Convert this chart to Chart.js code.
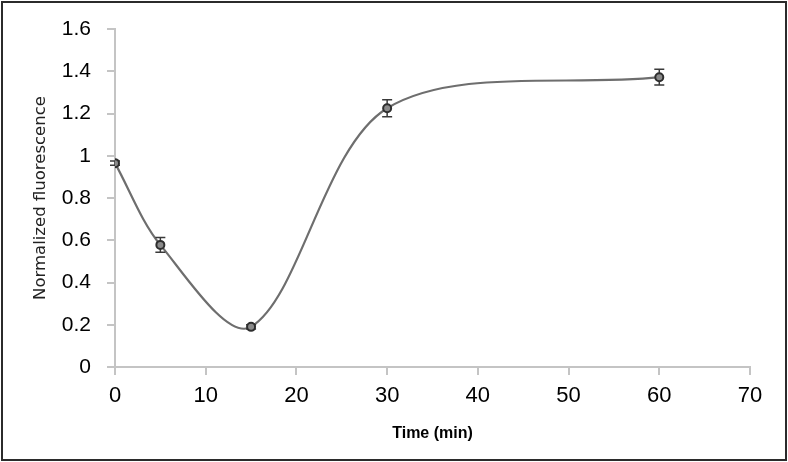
<!DOCTYPE html>
<html>
<head>
<meta charset="utf-8">
<script src="https://cdn.jsdelivr.net/npm/chart.js@4"></script>
<style>
  html, body { margin: 0; padding: 0; background: #ffffff; }
  #wrap { width: 788px; height: 462px; }
</style>
</head>
<body>
<div id="wrap"><canvas id="c" width="788" height="462"></canvas></div>
<script>
// ---- data ----
const timeMin = [0, 5, 15, 30, 60];
const fluorescence = [0.965, 0.578, 0.19, 1.225, 1.372];
const errorBars = [0.01, 0.035, 0.01, 0.04, 0.037];
const xTitle = 'Time (min)';
const yTitle = 'Normalized fluorescence';
const xMin = 0, xMax = 70, xStep = 10;
const yMin = 0, yMax = 1.6, yStep = 0.2;

const points = timeMin.map((t, i) => ({ x: t, y: fluorescence[i] }));

const errorBarPlugin = {
  id: 'errorBars',
  afterDatasetDraw(chart, args) {
    if (args.index !== 1) return;
    const ctx = chart.ctx;
    const xs = chart.scales.x, ys = chart.scales.y;
    ctx.save();
    ctx.strokeStyle = '#3a3a3a';
    ctx.lineWidth = 1.5;
    timeMin.forEach((t, i) => {
      const px = xs.getPixelForValue(t);
      const top = ys.getPixelForValue(fluorescence[i] + errorBars[i]);
      const bot = ys.getPixelForValue(fluorescence[i] - errorBars[i]);
      ctx.beginPath();
      ctx.moveTo(px, top); ctx.lineTo(px, bot);
      ctx.moveTo(px - 5, top); ctx.lineTo(px + 5, top);
      ctx.moveTo(px - 5, bot); ctx.lineTo(px + 5, bot);
      ctx.stroke();
    });
    ctx.restore();
  }
};

const framePlugin = {
  id: 'frame',
  afterDraw(chart) {
    const ctx = chart.ctx;
    ctx.save();
    ctx.strokeStyle = '#2b2b2b';
    ctx.lineWidth = 2;
    ctx.strokeRect(2, 2, chart.width - 4, chart.height - 4);
    ctx.restore();
  }
};

new Chart(document.getElementById('c'), {
  type: 'scatter',
  data: {
    datasets: [
      {
        label: 'points',
        data: points,
        order: 0,
        showLine: false,
        pointRadius: 4,
        pointBackgroundColor: '#8a8a8a',
        pointBorderColor: '#2e2e2e',
        pointBorderWidth: 2
      },
      {
        label: 'curve',
        data: points,
        order: 1,
        showLine: true,
        borderColor: '#6e6e6e',
        borderWidth: 2.2,
        tension: 0.32,
        pointRadius: 0,
        fill: false
      }
    ]
  },
  options: {
    responsive: false,
    animation: false,
    layout: { padding: { top: 29, right: 38, left: 0, bottom: 0 } },
    plugins: { legend: { display: false }, tooltip: { enabled: false } },
    scales: {
      x: {
        type: 'linear',
        min: xMin, max: xMax,
        afterFit(scale) { scale.height = 95; },
        ticks: { stepSize: xStep, color: '#000', padding: 8,
                 font: { family: 'Liberation Sans', size: 22 } },
        grid: { drawOnChartArea: false, drawTicks: true, tickLength: 8, color: '#c4c4c4', lineWidth: 2 },
        border: { color: '#c4c4c4', width: 2 },
        title: { display: true, text: xTitle, color: '#000',
                 padding: { top: 0, bottom: 19 },
                 font: { family: 'Liberation Sans', size: 16, weight: 'bold' } }
      },
      y: {
        type: 'linear',
        min: yMin, max: yMax,
        afterFit(scale) { scale.width = 115; },
        ticks: { stepSize: yStep, color: '#000', padding: 16,
                 font: { family: 'Liberation Sans', size: 21 },
                 callback: (v) => String(Number(v.toFixed(1))) },
        grid: { drawOnChartArea: false, drawTicks: true, tickLength: 8, color: '#c4c4c4', lineWidth: 2 },
        border: { color: '#c4c4c4', width: 2 },
        title: { display: true, text: yTitle, color: '#222',
                 padding: { top: 31, bottom: 0 },
                 font: { family: 'DejaVu Sans', size: 16.5 } }
      }
    }
  },
  plugins: [errorBarPlugin, framePlugin]
});
</script>
</body>
</html>
